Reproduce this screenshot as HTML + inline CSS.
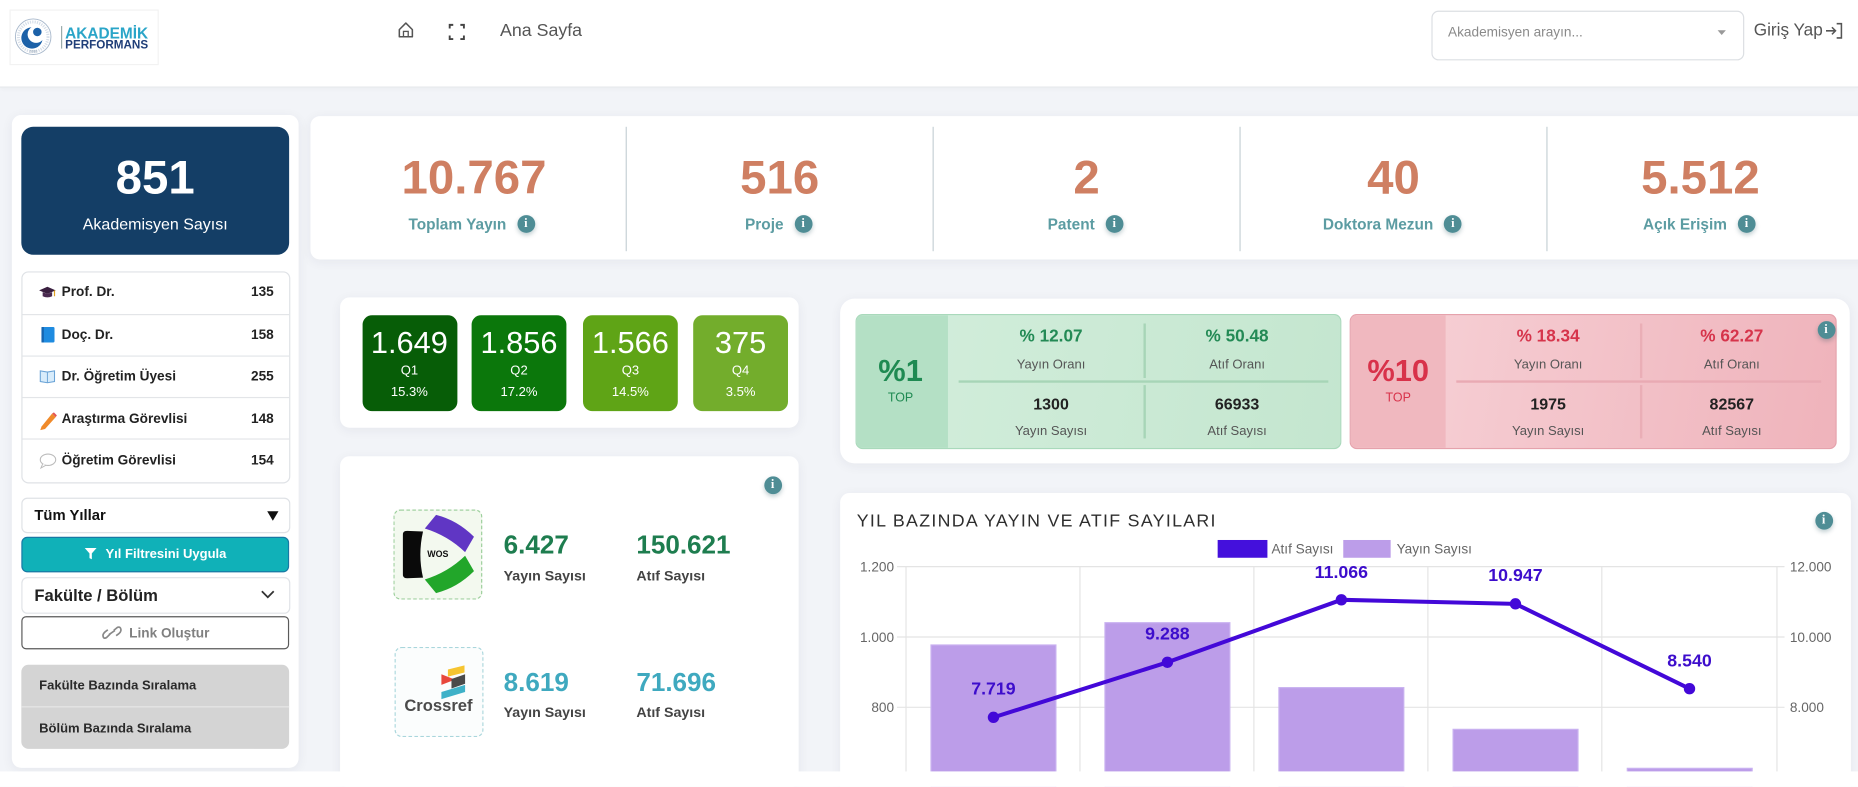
<!DOCTYPE html>
<html><head><meta charset="utf-8">
<style>
html,body{margin:0;padding:0;width:1858px;height:786px;overflow:hidden;background:#fff;}
#w{position:absolute;left:0;top:0;width:1568px;height:664px;transform:scale(1.18495);transform-origin:0 0;background:#f2f4f8;font-family:"Liberation Sans",sans-serif;overflow:hidden;}
.a{position:absolute;}
.card{position:absolute;background:#fff;border-radius:8px;box-shadow:0 2px 10px rgba(30,40,60,0.06);}
.c{position:absolute;transform:translate(-50%,-50%);white-space:nowrap;}
.l{position:absolute;transform:translateY(-50%);white-space:nowrap;}
.r{position:absolute;transform:translate(-100%,-50%);white-space:nowrap;}
.info{position:absolute;width:15px;height:15px;margin:-7.5px 0 0 -7.5px;border-radius:50%;background:#4f8d95;color:#fff;font-size:10.5px;font-weight:bold;text-align:center;line-height:15px;box-shadow:0 2px 4px rgba(0,60,70,.25);font-family:"Liberation Serif",serif;}
.stn{font-size:40px;font-weight:bold;color:#cf7f62;}
.stl{font-size:13px;font-weight:bold;color:#5c9ca2;display:flex;align-items:center;}
.stl i{position:relative;display:inline-block;width:15px;height:15px;border-radius:50%;background:#4f8d95;color:#fff;font-size:10.5px;font-style:normal;text-align:center;line-height:15px;margin-left:9px;box-shadow:0 2px 4px rgba(0,60,70,.25);font-family:"Liberation Serif",serif;}
.li{font-size:11.5px;font-weight:bold;color:#222;}
.qb{position:absolute;border-radius:8px;color:#fff;}
.qb .n{position:absolute;left:0;right:0;text-align:center;top:8px;font-size:26px;line-height:30px;}
.qb .q{position:absolute;left:0;right:0;text-align:center;top:41px;font-size:11px;}
.qb .p{position:absolute;left:0;right:0;text-align:center;top:59px;font-size:11px;}
.tv{font-size:14.5px;font-weight:bold;}
.tl{font-size:11px;color:#555;}
.tn{font-size:13.5px;font-weight:bold;color:#222;}
</style></head><body><div id="w">

<!-- header -->
<div class="a" style="left:0;top:0;width:1568px;height:73px;background:#fff;border-bottom:1px solid #e4e7eb;box-shadow:0 1px 4px rgba(0,0,0,0.03);"></div>
<div class="a" style="left:8px;top:8px;width:124px;height:45px;background:#fff;border:1px solid #f2f2f2;"></div>
<svg class="a" style="left:0;top:0" width="140" height="60" viewBox="0 0 140 60">
  <circle cx="28" cy="31" r="15" fill="none" stroke="#a9b9cc" stroke-width="0.8"/>
  <circle cx="28" cy="31" r="12.5" fill="none" stroke="#d6dee8" stroke-width="2.5" stroke-dasharray="1 1"/>
  <circle cx="27" cy="32" r="9" fill="#1c61a8"/>
  <circle cx="30.5" cy="29" r="7.2" fill="#fff"/>
  <circle cx="31.5" cy="27" r="3.6" fill="#1c61a8"/>
  <text x="28" y="44.5" font-size="3" fill="#8899aa" text-anchor="middle" font-family="Liberation Sans">2006</text>
  <rect x="51.5" y="22" width="1" height="19" fill="#9aa"/>
  <text x="55" y="32.3" font-size="13.5" font-weight="bold" fill="#2aa5c8" font-family="Liberation Sans" textLength="70" lengthAdjust="spacingAndGlyphs">AKADEMİK</text>
  <text x="55" y="41" font-size="9.8" font-weight="bold" fill="#1f3e78" font-family="Liberation Sans" textLength="70" lengthAdjust="spacingAndGlyphs">PERFORMANS</text>
</svg>
<svg class="a" style="left:330px;top:14px" width="70" height="26" viewBox="330 14 70 26">
  <path d="M337,25 L342.5,19.5 L348,25 L348,31 L337,31 Z" fill="none" stroke="#555" stroke-width="1.3" stroke-linejoin="round"/>
  <rect x="340.5" y="26.5" width="4" height="4.5" fill="none" stroke="#555" stroke-width="1.1"/>
  <path d="M379.5,24 L379.5,21 L382.5,21 M388.5,21 L391.5,21 L391.5,24 M391.5,30 L391.5,33 L388.5,33 M382.5,33 L379.5,33 L379.5,30" fill="none" stroke="#444" stroke-width="1.6"/>
</svg>
<div class="l" style="left:422px;top:26px;font-size:15px;color:#555;">Ana Sayfa</div>
<div class="a" style="left:1208px;top:9px;width:262px;height:40px;border:1px solid #dcdfe3;border-radius:6px;background:#fff;"></div>
<div class="l" style="left:1222px;top:28px;font-size:11.5px;color:#8a8a8a;">Akademisyen arayın...</div>
<svg class="a" style="left:1449px;top:25px" width="9" height="6"><path d="M0.5,0.5 L7.5,0.5 L4,4.5 Z" fill="#999"/></svg>
<div class="l" style="left:1480px;top:26px;font-size:14.5px;color:#555;">Giriş Yap</div>
<svg class="a" style="left:1540px;top:19px" width="16" height="14" viewBox="0 0 16 14">
  <path d="M1,7 L9,7 M6,4 L9,7 L6,10" fill="none" stroke="#555" stroke-width="1.3"/>
  <path d="M10,1 L14,1 L14,13 L10,13" fill="none" stroke="#555" stroke-width="1.3"/>
</svg>

<!-- sidebar -->
<div class="card" style="left:10px;top:97px;width:242px;height:551px;"></div>
<div class="a" style="left:18px;top:107px;width:226px;height:108px;background:#143e66;border-radius:10px;"></div>
<div class="c" style="left:131px;top:151px;font-size:40px;font-weight:bold;color:#fff;">851</div>
<div class="c" style="left:131px;top:189px;font-size:13.5px;color:#fff;">Akademisyen Sayısı</div>

<div class="a" style="left:18px;top:229px;width:225px;height:177px;border:1px solid #dfe2e6;border-radius:6px;background:#fff;"></div>
<div class="a" style="left:19px;top:265px;width:225px;height:1px;background:#e3e5e8;"></div>
<div class="a" style="left:19px;top:300px;width:225px;height:1px;background:#e3e5e8;"></div>
<div class="a" style="left:19px;top:335px;width:225px;height:1px;background:#e3e5e8;"></div>
<div class="a" style="left:19px;top:370px;width:225px;height:1px;background:#e3e5e8;"></div>
<svg class="a" style="left:0;top:0" width="60" height="400" viewBox="0 0 60 400">
  <path d="M33,245 L40,242 L47,245 L40,248 Z" fill="#3a1f3f"/>
  <path d="M36,246.5 L36,250 Q40,252 44,250 L44,246.5 L40,248 Z" fill="#4a2a50"/>
  <rect x="45.5" y="245" width="1" height="5" fill="#e0a020"/>
  <rect x="35" y="276" width="11" height="13" rx="1" fill="#1e8be0"/>
  <rect x="35" y="276" width="2" height="13" fill="#1565b0"/>
  <path d="M34,313 L40,314 L46,313 L46,322 L40,323 L34,322 Z" fill="#d8ecfb" stroke="#6aa3d6" stroke-width="0.9"/>
  <line x1="40" y1="314" x2="40" y2="323" stroke="#6aa3d6" stroke-width="0.8"/>
  <path d="M35,360 L44,349 L47,352 L38,362 L34,363 Z" fill="#f08a2a"/>
  <path d="M44,349 L47,352 L48,350.5 L45.5,348 Z" fill="#e25555"/>
  <ellipse cx="40.5" cy="388" rx="6.5" ry="4.8" fill="#fff" stroke="#bbb" stroke-width="0.9"/>
  <path d="M36,391.5 L34.5,395 L39,392.5" fill="#fff" stroke="#bbb" stroke-width="0.8"/>
</svg>
<div class="l li" style="left:52px;top:247px;">Prof. Dr.</div>
<div class="r li" style="left:231px;top:247px;">135</div>
<div class="l li" style="left:52px;top:283px;">Doç. Dr.</div>
<div class="r li" style="left:231px;top:283px;">158</div>
<div class="l li" style="left:52px;top:318px;">Dr. Öğretim Üyesi</div>
<div class="r li" style="left:231px;top:318px;">255</div>
<div class="l li" style="left:52px;top:353.5px;">Araştırma Görevlisi</div>
<div class="r li" style="left:231px;top:353.5px;">148</div>
<div class="l li" style="left:52px;top:389px;">Öğretim Görevlisi</div>
<div class="r li" style="left:231px;top:389px;">154</div>

<div class="a" style="left:18px;top:420px;width:225px;height:28px;border:1px solid #dfe2e6;border-radius:5px;background:#fff;"></div>
<div class="l" style="left:29px;top:435px;font-size:12.5px;font-weight:bold;color:#111;">Tüm Yıllar</div>
<svg class="a" style="left:225px;top:431px" width="11" height="9"><path d="M0.5,0.5 L10,0.5 L5.25,8.5 Z" fill="#111"/></svg>

<div class="a" style="left:18px;top:453px;width:224px;height:28px;border:1px solid #1779a4;border-radius:5px;background:#10b1b8;"></div>
<svg class="a" style="left:71px;top:462px" width="11" height="11"><path d="M0.5,0.5 L10.5,0.5 L6.5,5 L6.5,10 L4.5,9 L4.5,5 Z" fill="#fff"/></svg>
<div class="l" style="left:89px;top:468px;font-size:11px;font-weight:bold;color:#fff;">Yıl Filtresini Uygula</div>

<div class="a" style="left:18px;top:487px;width:225px;height:29px;border:1px solid #e0e3e7;border-radius:5px;background:#fff;"></div>
<div class="l" style="left:29px;top:502px;font-size:14px;font-weight:bold;color:#222;">Fakülte / Bölüm</div>
<svg class="a" style="left:220px;top:498px" width="12" height="8"><path d="M1,1 L6,6 L11,1" fill="none" stroke="#333" stroke-width="1.5"/></svg>

<div class="a" style="left:18px;top:520px;width:224px;height:26px;border:1px solid #5a5a5a;border-radius:4px;background:#fff;"></div>
<svg class="a" style="left:86px;top:528px" width="18" height="12" viewBox="0 0 18 12">
  <path d="M7,7 L4,10 Q1.5,11.5 1,9 Q0.5,7 3,5 L5,3.5" fill="none" stroke="#888" stroke-width="1.4"/>
  <path d="M10,4 L13,1.5 Q15.5,0.5 16,3 Q16.5,5 14,7 L12,8.5" fill="none" stroke="#888" stroke-width="1.4"/>
  <path d="M6,7.5 L11,4" stroke="#888" stroke-width="1.4"/>
</svg>
<div class="l" style="left:109px;top:535px;font-size:11.5px;font-weight:bold;color:#808080;">Link Oluştur</div>

<div class="a" style="left:18px;top:561px;width:226px;height:71px;background:#d4d4d4;border-radius:6px;"></div>
<div class="a" style="left:18px;top:596px;width:226px;height:1px;background:#e6e6e6;"></div>
<div class="l" style="left:33px;top:579px;font-size:11px;font-weight:bold;color:#2a2a2a;">Fakülte Bazında Sıralama</div>
<div class="l" style="left:33px;top:615px;font-size:11px;font-weight:bold;color:#2a2a2a;">Bölüm Bazında Sıralama</div>

<!-- stats card -->
<div class="card" style="left:262px;top:98px;width:1320px;height:121px;"></div>
<div class="a" style="left:528px;top:107px;width:1px;height:105px;background:#c6d0d5;"></div>
<div class="a" style="left:787px;top:107px;width:1px;height:105px;background:#c6d0d5;"></div>
<div class="a" style="left:1046px;top:107px;width:1px;height:105px;background:#c6d0d5;"></div>
<div class="a" style="left:1305px;top:107px;width:1px;height:105px;background:#c6d0d5;"></div>
<div class="c stn" style="left:400px;top:151px;">10.767</div>
<div class="c stn" style="left:658px;top:151px;">516</div>
<div class="c stn" style="left:917px;top:151px;">2</div>
<div class="c stn" style="left:1176px;top:151px;">40</div>
<div class="c stn" style="left:1435px;top:151px;">5.512</div>
<div class="c stl" style="left:398px;top:189px;">Toplam Yayın<i>i</i></div>
<div class="c stl" style="left:657px;top:189px;">Proje<i>i</i></div>
<div class="c stl" style="left:916px;top:189px;">Patent<i>i</i></div>
<div class="c stl" style="left:1175px;top:189px;">Doktora Mezun<i>i</i></div>
<div class="c stl" style="left:1434px;top:189px;">Açık Erişim<i>i</i></div>

<!-- Q card -->
<div class="card" style="left:287px;top:251px;width:387px;height:110px;"></div>
<div class="qb" style="left:305.5px;top:266px;width:80px;height:81px;background:#075d07;"><div class="n">1.649</div><div class="q">Q1</div><div class="p">15.3%</div></div>
<div class="qb" style="left:398px;top:266px;width:80px;height:81px;background:#0b770b;"><div class="n">1.856</div><div class="q">Q2</div><div class="p">17.2%</div></div>
<div class="qb" style="left:492px;top:266px;width:80px;height:81px;background:#5fa416;"><div class="n">1.566</div><div class="q">Q3</div><div class="p">14.5%</div></div>
<div class="qb" style="left:585px;top:266px;width:80px;height:81px;background:#73ad2c;"><div class="n">375</div><div class="q">Q4</div><div class="p">3.5%</div></div>

<!-- WOS card -->
<div class="card" style="left:287px;top:385px;width:387px;height:280px;"></div>
<div class="info" style="left:652px;top:409px;">i</div>
<div class="a" style="left:332px;top:430px;width:73px;height:74px;border:1px dashed #9ccf9c;border-radius:6px;background:#f3f9ef;"></div>
<div class="a" style="left:333px;top:546px;width:73px;height:74px;border:1px dashed #a9d6dc;border-radius:6px;background:#fbfdfd;"></div>
<svg class="a" style="left:0;top:0" width="700" height="664" viewBox="0 0 700 664">
  <path d="M340,452 Q339.5,448 343.5,448 L357,448.5 Q352.5,468 357,487.5 L343.5,488 Q339.5,488 340,484 Z" fill="#0a0a0a"/>
  <path d="M358.5,446 L368,434.5 Q386,439 400,453 L392.5,466 Q378,452 358.5,446 Z" fill="#6036c4"/>
  <path d="M358.5,489 L368,500.5 Q386,496 400,482 L392.5,469 Q378,483 358.5,489 Z" fill="#22a62a"/>
  <text x="369.5" y="470" font-size="7.5" font-weight="bold" fill="#111" text-anchor="middle" font-family="Liberation Sans">WOS</text>
  <path d="M378,565 L392,561.5 L392,567.5 L378,571 Z" fill="#f6c531"/>
  <path d="M372.5,569 L384,573.5 L372.5,578 Z" fill="#e8473c"/>
  <path d="M381,573 L392.5,569 L392.5,577 L381,581 Z" fill="#4a4a4a"/>
  <path d="M372.5,584 L392.5,578 L392.5,584 L372.5,590 Z" fill="#3eb1c8"/>
  <text x="370" y="600" font-size="14" font-weight="bold" fill="#4b4b4b" text-anchor="middle" font-family="Liberation Sans">Crossref</text>
</svg>
<div class="l" style="left:425px;top:460px;font-size:22px;font-weight:bold;color:#1e7d4f;">6.427</div>
<div class="l" style="left:425px;top:486px;font-size:12px;font-weight:bold;color:#444;">Yayın Sayısı</div>
<div class="l" style="left:537px;top:460px;font-size:22px;font-weight:bold;color:#1e7d4f;">150.621</div>
<div class="l" style="left:537px;top:486px;font-size:12px;font-weight:bold;color:#444;">Atıf Sayısı</div>
<div class="l" style="left:425px;top:576px;font-size:22px;font-weight:bold;color:#3fa9bf;">8.619</div>
<div class="l" style="left:425px;top:601px;font-size:12px;font-weight:bold;color:#444;">Yayın Sayısı</div>
<div class="l" style="left:537px;top:576px;font-size:22px;font-weight:bold;color:#3fa9bf;">71.696</div>
<div class="l" style="left:537px;top:601px;font-size:12px;font-weight:bold;color:#444;">Atıf Sayısı</div>

<!-- TOP card -->
<div class="card" style="left:709px;top:252px;width:852px;height:139px;border-radius:12px;"></div>
<div class="a" style="left:722px;top:265px;width:408px;height:112px;border:1px solid #a9d9bb;border-radius:6px;background:linear-gradient(100deg,#d3eedc,#c4e6cf);overflow:hidden;">
  <div class="a" style="left:0;top:0;width:77px;height:112px;background:#b4e0c5;"></div>
</div>
<div class="a" style="left:809px;top:321px;width:312px;height:2px;background:#a7d5b7;"></div>
<div class="a" style="left:965px;top:273px;width:2px;height:46px;background:#a7d5b7;"></div>
<div class="a" style="left:965px;top:325px;width:2px;height:45px;background:#a7d5b7;"></div>
<div class="c" style="left:760px;top:313px;font-size:26px;font-weight:bold;color:#1f8a52;">%1</div>
<div class="c" style="left:760px;top:336px;font-size:10.5px;color:#1f8a52;">TOP</div>
<div class="c tv" style="left:887px;top:284px;color:#238a55;">% 12.07</div>
<div class="c tl" style="left:887px;top:308px;">Yayın Oranı</div>
<div class="c tn" style="left:887px;top:340.5px;">1300</div>
<div class="c tl" style="left:887px;top:363.5px;">Yayın Sayısı</div>
<div class="c tv" style="left:1044px;top:284px;color:#238a55;">% 50.48</div>
<div class="c tl" style="left:1044px;top:308px;">Atıf Oranı</div>
<div class="c tn" style="left:1044px;top:340.5px;">66933</div>
<div class="c tl" style="left:1044px;top:363.5px;">Atıf Sayısı</div>

<div class="a" style="left:1138.5px;top:265px;width:409px;height:112px;border:1px solid #e5a2ac;border-radius:6px;background:linear-gradient(100deg,#f7d3d8,#efb3bb);overflow:hidden;">
  <div class="a" style="left:0;top:0;width:80px;height:112px;background:#f0b8bf;"></div>
</div>
<div class="a" style="left:1229px;top:321px;width:308px;height:2px;background:#e9aab3;"></div>
<div class="a" style="left:1384px;top:273px;width:2px;height:46px;background:#eaaeb6;"></div>
<div class="a" style="left:1384px;top:325px;width:2px;height:45px;background:#eaaeb6;"></div>
<div class="c" style="left:1180px;top:313px;font-size:26px;font-weight:bold;color:#d8324a;">%10</div>
<div class="c" style="left:1180px;top:336px;font-size:10.5px;color:#d8324a;">TOP</div>
<div class="c tv" style="left:1306.5px;top:284px;color:#d6344b;">% 18.34</div>
<div class="c tl" style="left:1306.5px;top:308px;">Yayın Oranı</div>
<div class="c tn" style="left:1306.5px;top:340.5px;">1975</div>
<div class="c tl" style="left:1306.5px;top:363.5px;">Yayın Sayısı</div>
<div class="c tv" style="left:1461.5px;top:284px;color:#d6344b;">% 62.27</div>
<div class="c tl" style="left:1461.5px;top:308px;">Atıf Oranı</div>
<div class="c tn" style="left:1461.5px;top:340.5px;">82567</div>
<div class="c tl" style="left:1461.5px;top:363.5px;">Atıf Sayısı</div>
<div class="info" style="left:1541px;top:278.5px;">i</div>

<!-- chart card -->
<div class="card" style="left:709px;top:416px;width:853px;height:260px;"></div>
<div class="l" style="left:723px;top:439.5px;font-size:15px;color:#2e2e2e;letter-spacing:1.1px;">YIL BAZINDA YAYIN VE ATIF SAYILARI</div>
<div class="info" style="left:1539px;top:439.7px;">i</div>
<svg class="a" style="left:0;top:0" width="1568" height="664" viewBox="0 0 1568 664" font-family="Liberation Sans">
  <g stroke="#e4e4e4" stroke-width="1">
    <line x1="757" y1="478.2" x2="1506" y2="478.2"/>
    <line x1="757" y1="537.6" x2="1506" y2="537.6"/>
    <line x1="757" y1="596.9" x2="1506" y2="596.9"/>
    <line x1="757" y1="656.2" x2="1506" y2="656.2"/>
    <line x1="764.6" y1="478.2" x2="764.6" y2="664"/>
    <line x1="911.4" y1="478.2" x2="911.4" y2="664"/>
    <line x1="1058.2" y1="478.2" x2="1058.2" y2="664"/>
    <line x1="1205" y1="478.2" x2="1205" y2="664"/>
    <line x1="1351.8" y1="478.2" x2="1351.8" y2="664"/>
    <line x1="1499.6" y1="478.2" x2="1499.6" y2="664"/>
  </g>
  <g font-size="11.5" fill="#666">
    <text x="754.5" y="482.2" text-anchor="end">1.200</text>
    <text x="754.5" y="541.6" text-anchor="end">1.000</text>
    <text x="754.5" y="600.9" text-anchor="end">800</text>
    <text x="1510.5" y="482.2">12.000</text>
    <text x="1510.5" y="541.6">10.000</text>
    <text x="1510.5" y="600.9">8.000</text>
  </g>
  <rect x="1027.6" y="455.7" width="42" height="15" fill="#4410dc"/>
  <text x="1073" y="467" font-size="11.5" fill="#666">Atıf Sayısı</text>
  <rect x="1133.6" y="455.7" width="40" height="15" fill="#bc9de9"/>
  <text x="1178.6" y="467" font-size="11.5" fill="#666">Yayın Sayısı</text>
  <g fill="#bc9de9" stroke="#c9b2f0" stroke-width="1">
    <rect x="785.7" y="544.3" width="105.4" height="130"/>
    <rect x="932.5" y="525.5" width="105.4" height="150"/>
    <rect x="1079.3" y="580.3" width="105.4" height="100"/>
    <rect x="1226.3" y="615.5" width="105.4" height="60"/>
    <rect x="1373.3" y="648.4" width="105.4" height="30"/>
  </g>
  <polyline points="838.4,605.4 985.2,558.9 1132,506.2 1278.9,509.6 1425.8,581.2" fill="none" stroke="#4308d8" stroke-width="3.4" stroke-linejoin="round"/>
  <g fill="#4308d8">
    <circle cx="838.4" cy="605.4" r="4.8"/>
    <circle cx="985.2" cy="558.9" r="4.8"/>
    <circle cx="1132" cy="506.2" r="4.8"/>
    <circle cx="1278.9" cy="509.6" r="4.8"/>
    <circle cx="1425.8" cy="581.2" r="4.8"/>
  </g>
  <g font-size="15" font-weight="bold" fill="#3d0dcc" text-anchor="middle">
    <text x="838.4" y="586.2">7.719</text>
    <text x="985.2" y="539.8">9.288</text>
    <text x="1132" y="487.7">11.066</text>
    <text x="1278.9" y="490.5">10.947</text>
    <text x="1425.8" y="562.3">8.540</text>
  </g>
</svg>

<!-- bottom white strip -->
<div class="a" style="left:0;top:651px;width:1568px;height:20px;background:#fff;"></div>
</div></body></html>
